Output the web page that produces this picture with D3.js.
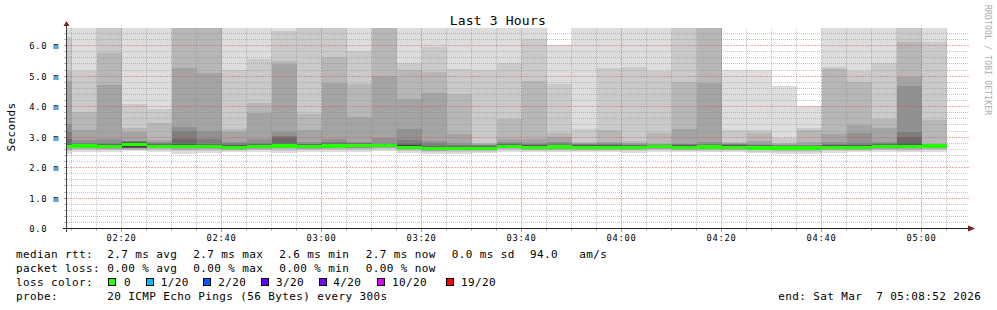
<!DOCTYPE html>
<html>
<head>
<meta charset="utf-8">
<script src="https://cdn.jsdelivr.net/npm/d3@7"></script>
<style>
  body { margin: 0; background: #fff; }
  svg { display: block; }
  text { font-family: "DejaVu Sans Mono", monospace; }
</style>
</head>
<body>
<svg id="chart" width="997" height="310"></svg>
<script>
// ---------------- DATA ----------------
const day = "2026-03-07";
const startTime = "02:08:52";
const endTime = "05:08:52";
// end time of each 5-minute step (value covers the preceding 5 minutes)
const times = ["02:10","02:15","02:20","02:25","02:30","02:35","02:40","02:45","02:50","02:55",
               "03:00","03:05","03:10","03:15","03:20","03:25","03:30","03:35","03:40","03:45",
               "03:50","03:55","04:00","04:05","04:10","04:15","04:20","04:25","04:30","04:35",
               "04:40","04:45","04:50","04:55","05:00","05:05"];
// median rtt (ms)
const medians = [2.69,2.71,2.70,2.76,2.70,2.70,2.70,2.66,2.70,2.71,
                 2.70,2.71,2.72,2.73,2.67,2.62,2.62,2.63,2.70,2.67,
                 2.68,2.67,2.67,2.66,2.70,2.67,2.68,2.67,2.65,2.64,
                 2.64,2.67,2.67,2.69,2.70,2.71];
// 20 sorted ping rtts (ms) per step
const pings = [
 [2.45,2.55,2.59,2.62,2.64,2.65,2.66,2.67,2.68,2.68, 2.70,2.72,2.76,2.94,3.16,3.43,4.85,5.18,6.27,7.0],
 [2.50,2.57,2.61,2.63,2.65,2.66,2.67,2.68,2.69,2.70, 2.72,2.74,2.76,2.78,2.80,2.90,3.24,3.82,5.18,7.0],
 [2.50,2.57,2.60,2.62,2.64,2.65,2.66,2.67,2.68,2.69, 2.71,2.73,2.75,2.78,2.82,2.93,4.71,5.77,7.0,7.0],
 [2.55,2.59,2.61,2.62,2.63,2.64,2.64,2.65,2.67,2.70, 2.80,2.82,2.84,2.85,2.87,2.89,3.16,3.30,4.09,7.0],
 [2.52,2.58,2.61,2.63,2.65,2.66,2.67,2.68,2.69,2.70, 2.71,2.73,2.75,2.77,2.80,2.84,2.90,3.46,3.92,7.0],
 [2.45,2.55,2.59,2.62,2.64,2.65,2.66,2.67,2.68,2.69, 2.72,2.75,2.78,2.94,3.21,3.33,5.27,7.0,7.0,7.0],
 [2.49,2.56,2.60,2.62,2.64,2.65,2.66,2.67,2.68,2.69, 2.71,2.73,2.75,2.78,2.94,3.21,5.10,7.0,7.0,7.0],
 [2.50,2.55,2.58,2.60,2.61,2.62,2.63,2.64,2.65,2.66, 2.68,2.70,2.73,2.76,2.80,2.85,3.18,3.28,5.20,7.0],
 [2.51,2.57,2.60,2.62,2.64,2.65,2.66,2.67,2.68,2.69, 2.71,2.73,2.75,2.78,2.82,2.94,3.78,4.11,5.56,7.0],
 [2.48,2.56,2.60,2.63,2.65,2.66,2.67,2.68,2.69,2.70, 2.73,2.75,2.78,3.00,3.05,3.16,5.40,5.49,6.47,7.0],
 [2.50,2.57,2.60,2.62,2.64,2.65,2.66,2.67,2.68,2.69, 2.71,2.73,2.75,2.77,2.79,2.83,3.23,3.76,7.0,7.0],
 [2.50,2.57,2.61,2.63,2.65,2.66,2.67,2.68,2.69,2.70, 2.73,2.75,2.77,2.80,2.84,2.94,4.77,5.62,7.0,7.0],
 [2.52,2.58,2.62,2.64,2.66,2.67,2.68,2.69,2.70,2.71, 2.74,2.76,2.78,2.80,2.81,2.85,3.67,4.74,5.81,7.0],
 [2.55,2.60,2.63,2.65,2.67,2.68,2.69,2.70,2.71,2.72, 2.74,2.76,2.77,2.78,2.79,2.96,5.01,7.0,7.0,7.0],
 [2.48,2.55,2.58,2.60,2.62,2.63,2.64,2.65,2.66,2.66, 2.70,2.73,2.76,2.80,2.91,3.26,4.24,5.20,5.42,7.0],
 [2.45,2.51,2.54,2.56,2.57,2.58,2.59,2.60,2.61,2.61, 2.64,2.66,2.68,2.72,2.80,2.88,4.44,5.14,5.97,7.0],
 [2.46,2.52,2.55,2.57,2.58,2.59,2.60,2.61,2.61,2.62, 2.64,2.66,2.68,2.70,2.74,2.80,3.09,4.41,5.22,7.0],
 [2.48,2.53,2.56,2.58,2.59,2.60,2.61,2.62,2.62,2.63, 2.65,2.67,2.69,2.71,2.73,2.76,2.78,2.80,5.20,7.0],
 [2.52,2.58,2.61,2.63,2.65,2.66,2.67,2.68,2.69,2.69, 2.72,2.74,2.76,2.78,2.80,2.84,2.95,3.60,5.42,7.0],
 [2.50,2.55,2.58,2.60,2.62,2.63,2.64,2.65,2.66,2.66, 2.69,2.71,2.73,2.76,2.79,2.82,2.95,4.84,6.21,7.0],
 [2.50,2.56,2.59,2.61,2.63,2.64,2.65,2.66,2.67,2.67, 2.70,2.72,2.74,2.76,2.80,2.84,3.02,3.15,4.76,6.01],
 [2.50,2.56,2.59,2.61,2.62,2.63,2.64,2.65,2.66,2.66, 2.69,2.71,2.73,2.75,2.77,2.79,2.81,2.84,3.26,7.0],
 [2.50,2.56,2.59,2.61,2.62,2.63,2.64,2.65,2.66,2.66, 2.69,2.71,2.73,2.75,2.77,2.80,2.84,3.23,5.26,7.0],
 [2.48,2.55,2.58,2.60,2.61,2.62,2.63,2.64,2.65,2.65, 2.68,2.70,2.72,2.74,2.76,2.78,2.80,2.88,5.31,7.0],
 [2.51,2.57,2.60,2.62,2.64,2.65,2.66,2.67,2.68,2.69, 2.72,2.73,2.74,2.75,2.76,2.77,2.79,3.15,5.18,7.0],
 [2.50,2.56,2.59,2.61,2.62,2.63,2.64,2.65,2.66,2.66, 2.69,2.71,2.73,2.75,2.77,2.79,3.27,4.81,7.0,7.0],
 [2.50,2.56,2.59,2.61,2.63,2.64,2.65,2.66,2.67,2.67, 2.70,2.72,2.74,2.76,2.78,2.83,4.78,7.0,7.0,7.0],
 [2.50,2.56,2.59,2.61,2.62,2.63,2.64,2.65,2.66,2.66, 2.69,2.71,2.73,2.75,2.77,2.79,2.81,2.84,3.22,5.20],
 [2.47,2.53,2.57,2.59,2.60,2.61,2.62,2.63,2.64,2.64, 2.67,2.69,2.71,2.73,2.75,2.77,2.87,3.15,3.25,5.20],
 [2.46,2.52,2.56,2.58,2.59,2.60,2.61,2.62,2.63,2.63, 2.66,2.68,2.70,2.72,2.74,2.76,2.78,2.82,2.98,4.68],
 [2.46,2.52,2.56,2.58,2.59,2.60,2.61,2.62,2.63,2.63, 2.66,2.68,2.70,2.72,2.74,2.76,2.84,3.24,3.29,4.01],
 [2.49,2.55,2.58,2.60,2.62,2.63,2.64,2.65,2.66,2.66, 2.69,2.71,2.73,2.75,2.78,2.84,3.12,5.23,5.31,7.0],
 [2.50,2.56,2.59,2.61,2.62,2.63,2.64,2.65,2.66,2.66, 2.69,2.71,2.73,2.76,2.81,3.15,3.40,4.80,5.16,7.0],
 [2.51,2.57,2.60,2.62,2.64,2.65,2.66,2.67,2.68,2.68, 2.71,2.73,2.75,2.77,2.80,2.85,3.30,3.61,5.42,7.0],
 [2.50,2.56,2.60,2.62,2.64,2.65,2.66,2.67,2.68,2.69, 2.72,2.76,2.80,3.02,3.16,4.69,4.98,6.11,7.0,7.0],
 [2.52,2.58,2.61,2.63,2.65,2.66,2.67,2.68,2.69,2.70, 2.73,2.74,2.75,2.76,2.77,2.78,2.78,3.56,6.12,7.0]
];
const yTickValues = [0,1,2,3,4,5,6];
const yTickLabels = ["0.0","1.0 m","2.0 m","3.0 m","4.0 m","5.0 m","6.0 m"];
const xTickTimes = ["02:20","02:40","03:00","03:20","03:40","04:00","04:20","04:40","05:00"];
const xTickLabels = ["02:20","02:40","03:00","03:20","03:40","04:00","04:20","04:40","05:00"];
const lossLabels = ["0","1/20","2/20","3/20","4/20","10/20","19/20"];
const lossColors = ["#26ff00","#00b8ff","#0059ff","#5e00ff","#7e00ff","#dd00ff","#ff0000"];
const statsRtt = ["2.7 ms avg","2.7 ms max","2.6 ms min","2.7 ms now","0.0 ms sd","94.0","am/s"];
const statsLoss = ["0.00 % avg","0.00 % max","0.00 % min","0.00 % now"];
const probeText = "20 ICMP Echo Pings (56 Bytes) every 300s";
const endText = "end: Sat Mar\u00a0\u00a07 05:08:52 2026";

// ---------------- DRAW ----------------
const svg = d3.select("#chart");
svg.append("rect").attr("width",997).attr("height",310).attr("fill","#fff");

const parseT = d3.timeParse("%Y-%m-%d %H:%M:%S");
const tStart = parseT(day+" "+startTime), tEnd = parseT(day+" "+endTime);
const X0 = 66, X1 = 966, YT = 28, YB = 228.7;
const x = d3.scaleTime().domain([tStart, tEnd]).range([X0, X1]);
const y = d3.scaleLinear().domain([0, 6.58]).range([YB, YT]);

const cols = times.map((t,i) => {
  const e = parseT(day+" "+t+":00");
  const s = new Date(Math.max(+tStart, +e - 300000));
  return {x0: x(s), x1: x(e), p: pings[i], m: medians[i]};
});

svg.append("defs").append("clipPath").attr("id","plotclip")
  .append("rect").attr("x",X0).attr("y",YT).attr("width",X1-X0).attr("height",YB-YT);

// smoke
const smoke = svg.append("g").attr("clip-path","url(#plotclip)").attr("shape-rendering","crispEdges");
for (let i=0;i<10;i++){
  const g = 221 - 19*i;
  smoke.append("g").selectAll("rect").data(cols).join("rect")
    .attr("x", d=>d.x0).attr("width", d=>d.x1-d.x0)
    .attr("y", d=>y(d.p[19-i]))
    .attr("height", d=>y(d.p[i]) - y(d.p[19-i]))
    .attr("fill", d3.rgb(g,g,g));
}

// grid (dotted)
const grid = svg.append("g").attr("shape-rendering","crispEdges");
const minorColor = "rgba(140,140,140,0.5)";
const majorColor = "rgb(228,72,72)";
const minorY = d3.range(1,33).map(k=>k*0.2).filter(v=>Math.abs(v-Math.round(v))>1e-6 && v<6.58);
const minorT = d3.timeMinute.every(5).range(tStart, tEnd).filter(d=>d.getMinutes()%20!==0);
const majorT = xTickTimes.map(t=>parseT(day+" "+t+":00"));
function hline(sel, data, color, op, dash){
  sel.append("g").selectAll("line").data(data).join("line")
    .attr("x1",X0+1).attr("x2",X1+3)
    .attr("y1",d=>Math.floor(y(d))+0.5).attr("y2",d=>Math.floor(y(d))+0.5)
    .attr("stroke",color).attr("stroke-opacity",op).attr("stroke-width",1).attr("stroke-dasharray",dash);
}
function vline(sel, data, color, op, dash){
  sel.append("g").selectAll("line").data(data).join("line")
    .attr("x1",d=>Math.floor(x(d))+0.5).attr("x2",d=>Math.floor(x(d))+0.5)
    .attr("y1",YT).attr("y2",YB-0.7)
    .attr("stroke",color).attr("stroke-opacity",op).attr("stroke-width",1).attr("stroke-dasharray",dash);
}
hline(grid, minorY, minorColor, 1, "1 1");
vline(grid, minorT, minorColor, 1, "1 1");
hline(grid, yTickValues.slice(1), majorColor, 0.45, "2 1");
vline(grid, majorT, majorColor, 0.45, "2 1");

// median line (loss 0 colour)
svg.append("g").attr("clip-path","url(#plotclip)").attr("shape-rendering","crispEdges")
  .selectAll("rect").data(cols).join("rect")
  .attr("x", d=>d.x0).attr("width", d=>d.x1-d.x0)
  .attr("y", d=>y(d.m)-1.7).attr("height",3.4)
  .attr("fill", lossColors[0]);

// minor tick marks
const ticks = svg.append("g").attr("shape-rendering","crispEdges");
ticks.selectAll(".tx").data(minorT).join("line")
  .attr("x1",d=>Math.floor(x(d))+0.5).attr("x2",d=>Math.floor(x(d))+0.5)
  .attr("y1",228).attr("y2",231).attr("stroke","rgba(140,140,140,0.6)");
ticks.selectAll(".ty").data(minorY).join("line")
  .attr("y1",d=>Math.floor(y(d))+0.5).attr("y2",d=>Math.floor(y(d))+0.5)
  .attr("x1",64).attr("x2",66).attr("stroke","rgba(140,140,140,0.6)");

// axes (d3 axes for major ticks and labels)
const axFont = {size: "8.8px", ls: "0.7px"};
const xAxis = d3.axisBottom(x).tickValues(majorT).tickFormat((d,i)=>xTickLabels[i]).tickSize(3).tickPadding(3);
const gx = svg.append("g").attr("transform","translate(0,228.5)").call(xAxis);
gx.select(".domain").remove();
gx.selectAll(".tick").attr("transform", d=>`translate(${Math.floor(x(d))+0.5},0)`);
gx.selectAll(".tick line").attr("stroke",majorColor).attr("stroke-opacity",0.7).attr("shape-rendering","crispEdges");
gx.selectAll(".tick text").attr("y",12.6).attr("dy",null)
  .attr("font-family","DejaVu Sans Mono").attr("font-size",axFont.size)
  .attr("letter-spacing",axFont.ls).attr("fill","#000");

const yAxis = d3.axisLeft(y).tickValues(yTickValues).tickFormat((d,i)=>yTickLabels[i]).tickSize(3).tickPadding(3);
const gy = svg.append("g").attr("transform","translate(66.5,0)").call(yAxis);
gy.select(".domain").remove();
gy.selectAll(".tick").attr("transform", d=>`translate(0,${Math.floor(y(d))+0.5})`);
gy.selectAll(".tick line").attr("stroke",majorColor).attr("stroke-opacity",0.7).attr("shape-rendering","crispEdges");
gy.selectAll(".tick text").attr("text-anchor","start").attr("x",29.3-66.5).attr("dy",null).attr("y",3.2)
  .attr("font-family","DejaVu Sans Mono").attr("font-size",axFont.size)
  .attr("letter-spacing",axFont.ls).attr("fill","#000");

// axis lines with arrows
svg.append("line").attr("x1",63).attr("x2",968).attr("y1",228.5).attr("y2",228.5)
  .attr("stroke","#1f1f1f").attr("stroke-width",1);
svg.append("path").attr("d","M968,225.5 L975,228.5 L968,231.5 Z").attr("fill","#7f1f1f");
svg.append("line").attr("x1",66.5).attr("x2",66.5).attr("y1",232).attr("y2",25)
  .attr("stroke","#404040").attr("stroke-width",1);
svg.append("path").attr("d","M63.5,26 L66.5,21 L69.5,26 Z").attr("fill","#7f1f1f");

// title
svg.append("text").attr("x",497.8).attr("y",25).attr("text-anchor","middle")
  .attr("font-size","13px").attr("letter-spacing","0.2px").text("Last 3 Hours");

// y label
svg.append("text").attr("transform","translate(14.5,127) rotate(-90)").attr("text-anchor","middle")
  .attr("font-size","11px").attr("letter-spacing","0.38px").text("Seconds");

// watermark
svg.append("text").attr("transform","translate(985,5) rotate(90)").attr("text-anchor","start")
  .attr("font-size","8px").attr("letter-spacing","0.2px").attr("fill","#aaaaaa")
  .text("RRDTOOL / TOBI OETIKER");

// legend
const leg = svg.append("g").attr("font-size","11px").attr("letter-spacing","0.38px").attr("fill","#000");
const rttX = [107.3,193.3,279.3,365.7,451.7,530,579.3];
const lossX = [107.3,193.3,279.3,365.7];
leg.append("text").attr("x",16).attr("y",257.7).text("median rtt:");
statsRtt.forEach((s,i)=>leg.append("text").attr("x",rttX[i]).attr("y",257.7).text(s));
leg.append("text").attr("x",16).attr("y",271.7).text("packet loss:");
statsLoss.forEach((s,i)=>leg.append("text").attr("x",lossX[i]).attr("y",271.7).text(s));
leg.append("text").attr("x",16).attr("y",285.7).text("loss color:");
const boxX = [108.5,146.5,203.5,261.5,319.5,377.5,446.5];
const lblX = [124,160.7,218.3,276,333.3,392,461];
lossLabels.forEach((l,i)=>{
  leg.append("rect").attr("x",boxX[i]).attr("y",278.5).attr("width",7).attr("height",7)
    .attr("fill",lossColors[i]).attr("stroke","#000").attr("stroke-width",1)
    .attr("shape-rendering","crispEdges");
  leg.append("text").attr("x",lblX[i]).attr("y",285.7).text(l);
});
leg.append("text").attr("x",16).attr("y",299.7).text("probe:");
leg.append("text").attr("x",107.3).attr("y",299.7).text(probeText);
leg.append("text").attr("x",778.3).attr("y",299.7).text(endText);
</script>
</body>
</html>
